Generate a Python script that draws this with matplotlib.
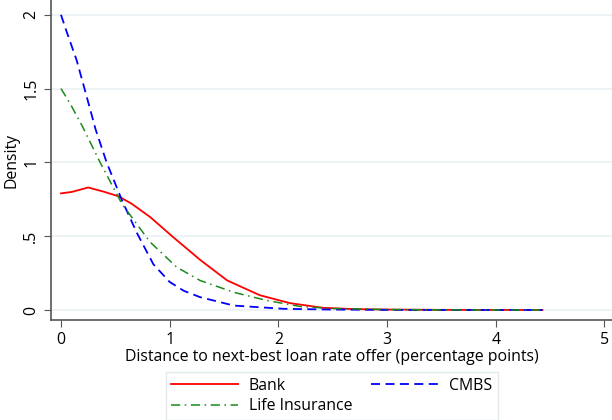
import matplotlib
matplotlib.use('Agg')
import matplotlib.pyplot as plt

plt.rcParams['font.family'] = ['Open Sans', 'DejaVu Sans']

# densities
bank_x = [0.0, 0.1, 0.25, 0.4, 0.53, 0.65, 0.82, 1.03, 1.28, 1.53, 1.83, 2.11, 2.41, 2.7, 3.0, 3.5, 4.0, 4.43]
bank_y = [0.79, 0.80, 0.83, 0.80, 0.77, 0.72, 0.63, 0.495, 0.34, 0.20, 0.10, 0.046, 0.015, 0.006, 0.003, 0.001, 0.0005, 0.0003]

cmbs_x = [0.0, 0.05, 0.145, 0.22, 0.32, 0.42, 0.56, 0.70, 0.85, 1.0, 1.13, 1.28, 1.59, 2.05, 2.5, 3.0, 3.5, 4.0, 4.43]
cmbs_y = [2.0, 1.89, 1.69, 1.49, 1.22, 1.0, 0.745, 0.52, 0.31, 0.19, 0.13, 0.087, 0.03, 0.008, 0.003, 0.001, 0.0005, 0.0003, 0.0002]

life_x = [0.0, 0.083, 0.2, 0.36, 0.56, 0.82, 1.065, 1.28, 1.59, 1.89, 2.2, 2.5, 3.0, 3.5, 4.0, 4.43]
life_y = [1.50, 1.40, 1.24, 1.0, 0.72, 0.46, 0.29, 0.20, 0.12, 0.065, 0.024, 0.01, 0.003, 0.001, 0.0005, 0.0003]

xticks = [0, 1, 2, 3, 4, 5]
yticks = [0, 0.5, 1, 1.5, 2]
ytick_labels = ['0', '.5', '1', '1.5', '2']

fs = 11.4

fig = plt.figure(figsize=(6.12, 4.20), dpi=100)
ax = fig.add_axes([0.0833, 0.238, 0.9167, 0.762])

ax.plot(bank_x, bank_y, color='red', lw=1.3, label='Bank')
ax.plot(cmbs_x, cmbs_y, color='blue', lw=1.3, dashes=(5, 3), label='CMBS')
ax.plot(life_x, life_y, color='#1a8a1a', lw=1.1, dashes=(6, 3, 1, 3), label='Life Insurance')

ax.set_xlim(-0.092, 5.07)
ax.set_ylim(-0.068, 2.10)
ax.set_xticks(xticks)
ax.set_yticks(yticks)
ax.set_yticklabels(ytick_labels, rotation=90, va='center')
ax.tick_params(direction='out', length=5, color='#555555', labelsize=fs)
ax.grid(axis='y', color='#eaf0f2', lw=1.2)
ax.set_axisbelow(True)
for side in ['top', 'right']:
    ax.spines[side].set_visible(False)
for side in ['left', 'bottom']:
    ax.spines[side].set_color('#555555')
    ax.spines[side].set_linewidth(1.2)

ax.set_xlabel('Distance to next-best loan rate offer (percentage points)', fontsize=fs, labelpad=1)
ax.set_ylabel('Density', fontsize=fs, labelpad=3)

# legend fills column-wise: Bank / Life Insurance in col 1, CMBS in col 2
handles, labels = ax.get_legend_handles_labels()
order = [0, 2, 1]
leg = fig.legend([handles[i] for i in order], [labels[i] for i in order],
                 loc='upper left', bbox_to_anchor=(0.271, 0.114), ncol=2,
                 fontsize=fs, frameon=True, fancybox=False, handlelength=4.2,
                 handletextpad=0.7, columnspacing=1.2, labelspacing=0.3,
                 borderpad=0.35, borderaxespad=0)
leg.get_frame().set_edgecolor('#dde5e8')
leg.get_frame().set_linewidth(1.0)

fig.savefig('out.png', dpi=100)
